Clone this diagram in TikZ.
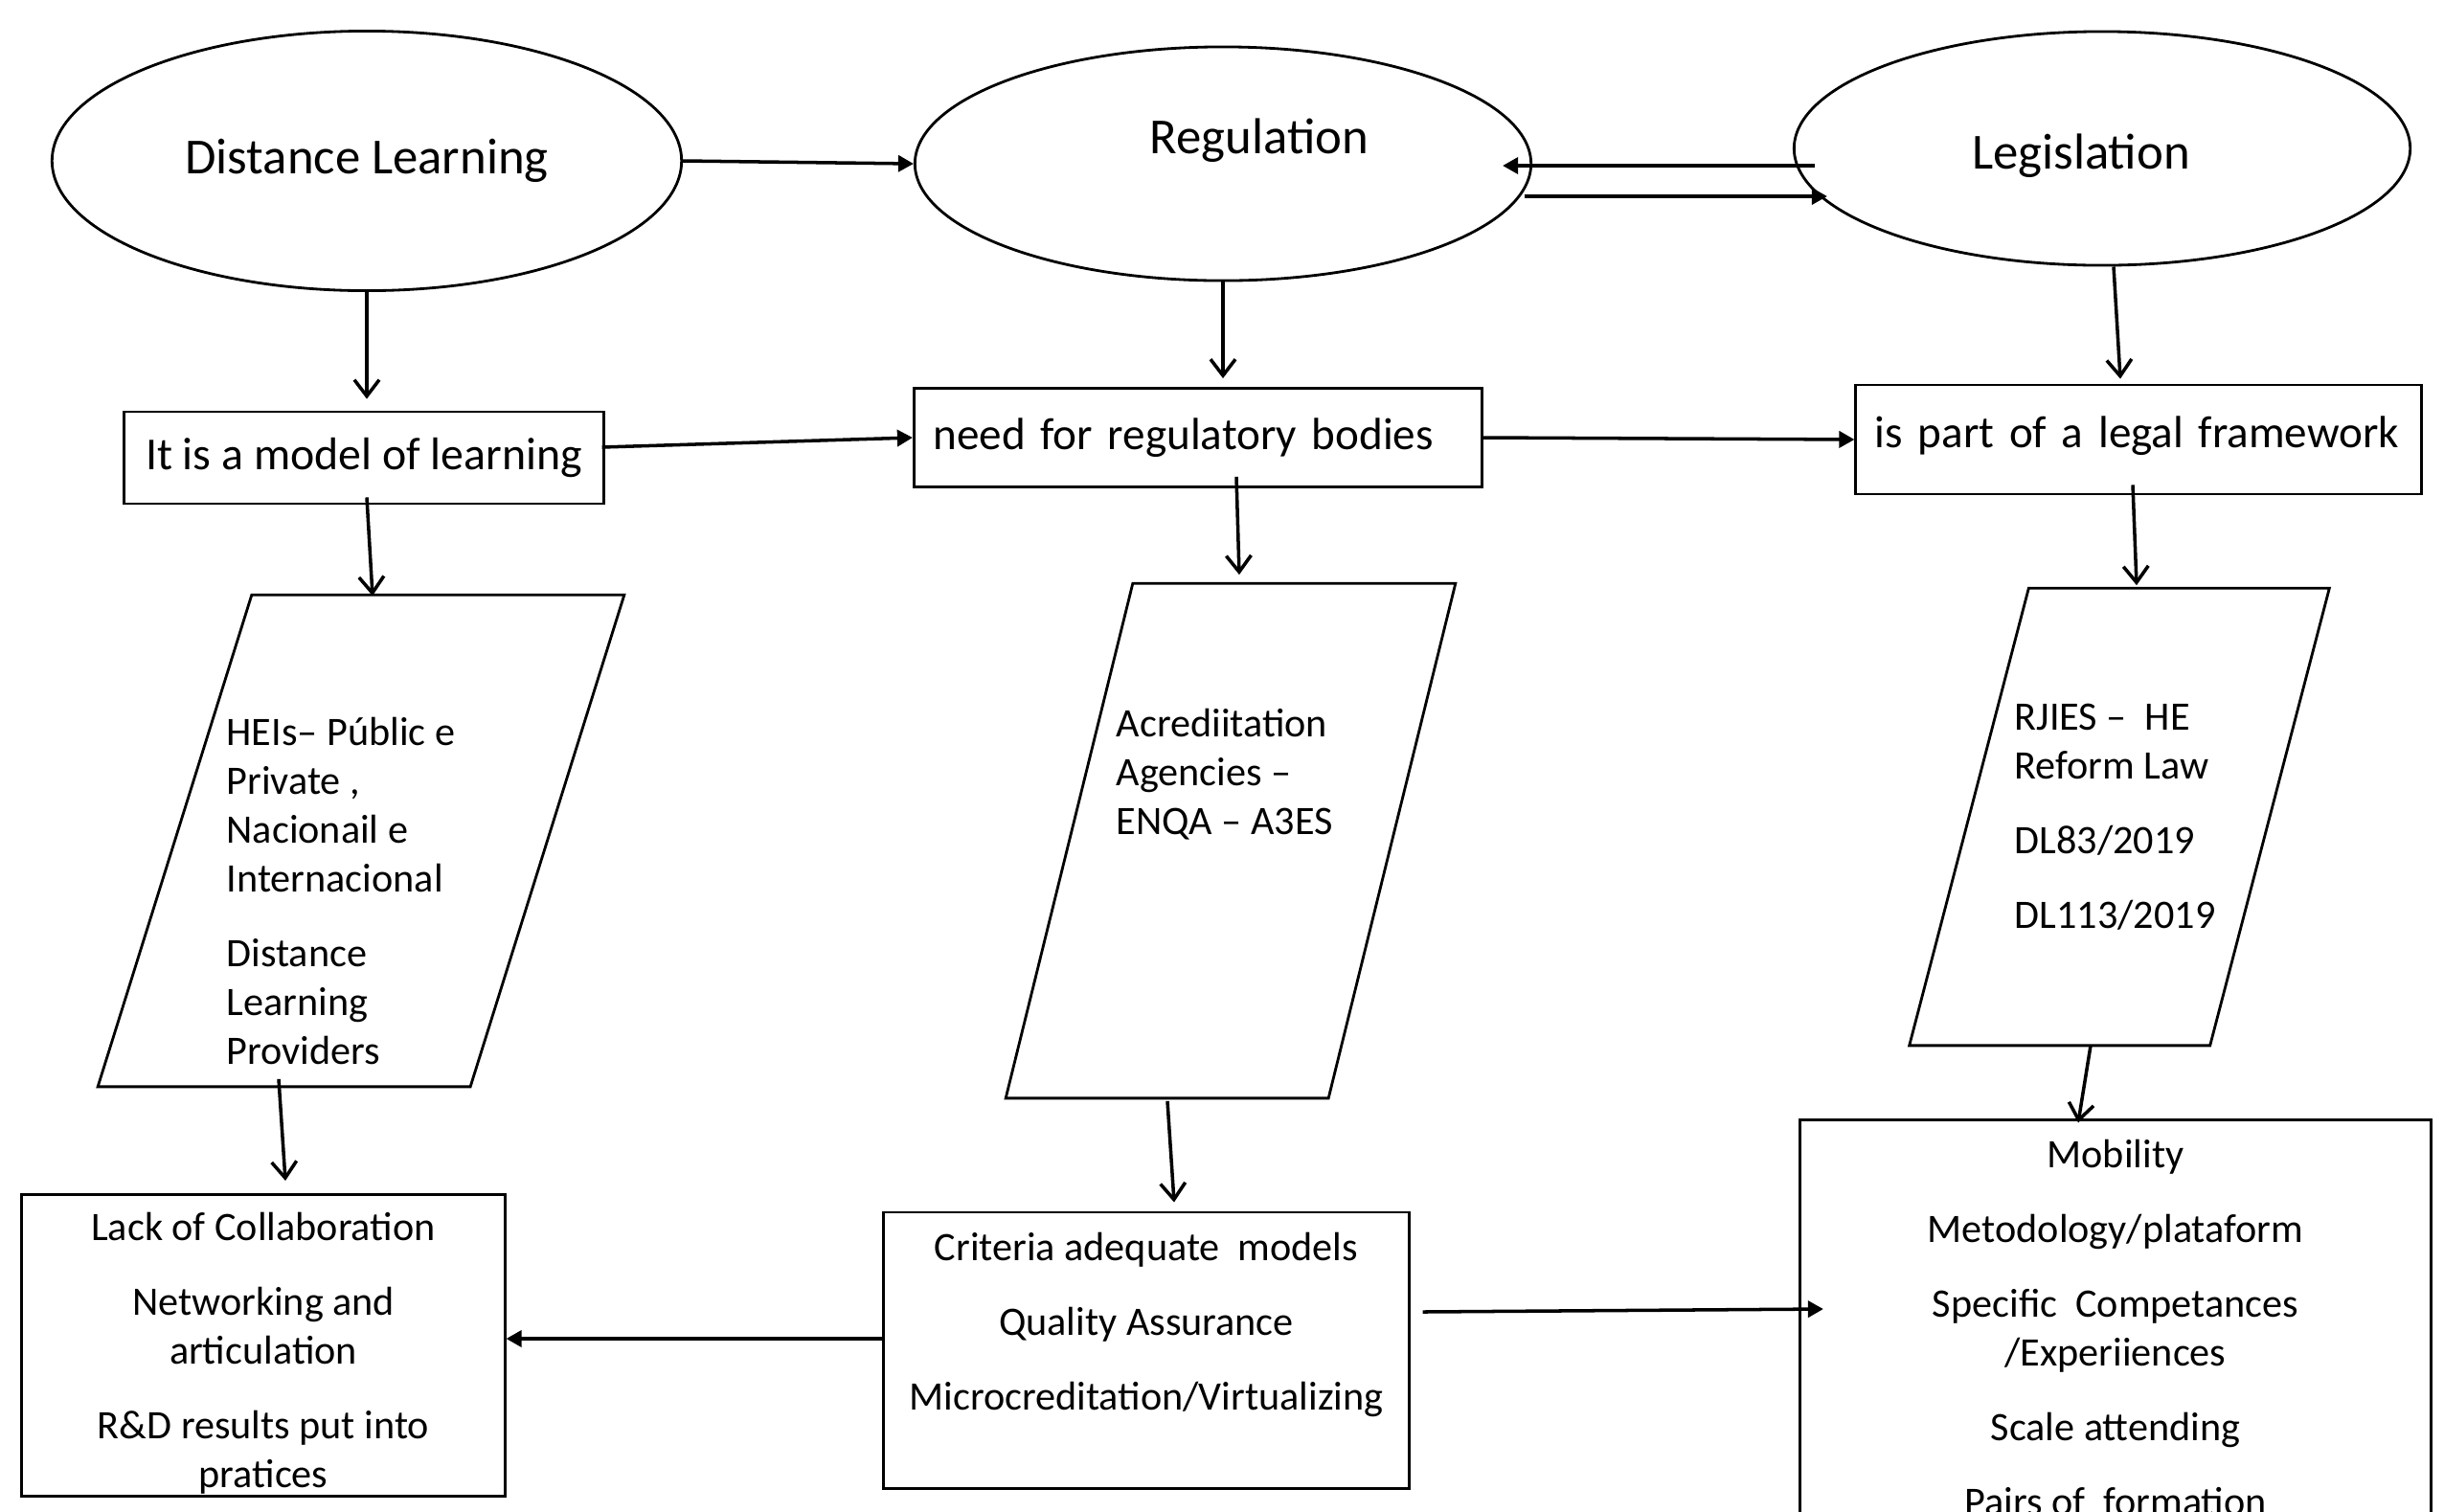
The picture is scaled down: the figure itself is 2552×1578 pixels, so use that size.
\documentclass[tikz,border=0pt]{standalone}
\usepackage{fontspec}
\setmainfont{Carlito}
\usetikzlibrary{arrows.meta, calc, positioning, shapes.geometric}

\tikzset{
  oval/.style={ellipse, draw, line width=0.8pt, inner sep=0pt, font=\fontsize{15}{18}\selectfont},
  box/.style={rectangle, draw, line width=0.8pt, inner sep=0pt},
  slot/.style={rectangle, inner sep=0pt},
  outline/.style={line width=0.8pt, line join=miter},
  txt/.style={inner sep=0pt, font=\fontsize{12}{14.5}\selectfont},
  vline/.style={line width=1pt, -{Straight Barb[length=0.17cm,width=0.26cm]}},
  hline/.style={line width=1pt, -{Triangle[length=0.16cm,width=0.17cm]}}
}

\begin{document}
\begin{tikzpicture}[x=0.01cm, y=-0.01cm]
    \useasboundingbox (0,0) rectangle (2552,1578);
    \clip (0,0) rectangle (2552,1578);

    % Top row
    \node[oval, minimum width=6.57cm, minimum height=2.71cm] (dl) at (383,168) {Distance Learning};
    \node[oval, minimum width=6.43cm, minimum height=2.44cm,
          label={[font=\fontsize{15}{18}\selectfont, xshift=0.38cm, yshift=0.24cm]center:Regulation}] (reg) at (1277,171) {};
    \node[oval, minimum width=6.43cm, minimum height=2.44cm,
          label={[font=\fontsize{15}{18}\selectfont, xshift=-0.22cm, yshift=-0.08cm]center:Legislation}] (leg) at (2195,155) {};

    % Second row
    \node[box, minimum width=5.00cm, minimum height=0.96cm, font=\fontsize{13.6}{16}\selectfont] (model) at (380,478) {It is a model of learning};
    \node[box, minimum width=5.93cm, minimum height=1.03cm, text width=5.53cm, align=left,
          font=\fontsize{13.4}{16}\selectfont] (need) at (1251,457) {\raisebox{0.08cm}{need for regulatory bodies}};
    \node[box, minimum width=5.90cm, minimum height=1.14cm, text width=5.50cm, align=left,
          font=\fontsize{13.4}{16}\selectfont] (legal) at (2233,459) {\raisebox{0.16cm}{is part of a legal framework}};

    % Parallelograms
    \node[slot, minimum width=5.48cm, minimum height=5.12cm] (hei) at (377,878) {};
    \draw[outline] (hei.south west) -- ++(389,0) -- (hei.north east) -- ++(-389,0) -- cycle;
    \node[slot, minimum width=4.68cm, minimum height=5.36cm] (acc) at (1285,878) {};
    \draw[outline] (acc.south west) -- ++(337,0) -- (acc.north east) -- ++(-337,0) -- cycle;
    \node[slot, minimum width=4.37cm, minimum height=4.76cm] (rjies) at (2213,853) {};
    \draw[outline] (rjies.south west) -- ++(314,0) -- (rjies.north east) -- ++(-314,0) -- cycle;

    \node[txt, anchor=north west, align=left] (heitxt) at (236,748)
        {HEIs– Públic e\\Private ,\\Nacionail e\\Internacional\\[7.7pt]Distance\\Learning\\Providers};
    \node[txt, anchor=north west, align=left] (acctxt) at (1165,739)
        {Acrediitation\\Agencies –\\ENQA – A3ES};
    \node[txt, anchor=north west, align=left] (rjiestxt) at (2103,734)
        {RJIES –~ HE\\Reform Law\\[7.7pt]DL83/2019\\[7.7pt]DL113/2019};

    % Bottom row
    \node[box, minimum width=5.04cm, minimum height=3.15cm] (lack) at (275,1405) {};
    \node[box, minimum width=5.48cm, minimum height=2.88cm] (crit) at (1197,1410) {};
    \node[box, minimum width=6.59cm, minimum height=5.60cm] (mob) at (2209,1450) {};

    \node[txt, align=center] (lacktxt) at (275,1413)
        {Lack of Collaboration\\[7.7pt]Networking and\\articulation\\[7.7pt]R\&D results put into\\pratices};
    \node[txt, anchor=north, align=center] (crittxt) at (1197,1286)
        {Criteria adequate~ models\\[7.7pt]Quality Assurance\\[7.7pt]Microcreditation/Virtualizing};
    \node[txt, anchor=north, align=center] (mobtxt) at (2209,1189)
        {Mobility\\[7.7pt]Metodology/plataform\\[7.7pt]Specific~ Competances\\/Experiiences\\[7.7pt]Scale attending\\[7.7pt]Pairs of~ formation};

    % Connectors
    \draw[vline, shorten >=0.12cm] (dl.south) -- (dl.south |- model.north);
    \draw[hline] (dl.east) -- (reg.west);
    \draw[hline] ($(leg.west)+(23,18)$) -- ($(reg.east)+(-31,2)$);
    \draw[hline] ($(reg.east)+(-8,34)$) -- ($(leg.west)+(36,50)$);
    \draw[vline, shorten >=0.09cm] (reg.south) -- (reg.south |- need.north);
    \draw[vline] ($(leg.south)+(12,0)$) -- ($(legal.north)+(-19,-5)$);

    \draw[hline] ($(model.east)+(-3,-11)$) -- (need.west);
    \draw[hline] (need.east) -- (legal.west);
    \draw[vline] ($(model.south)+(3,-8)$) -- ($(hei.north)+(12,1)$);
    \draw[vline] ($(need.south)+(40,-12)$) -- ($(acc.north)+(9,-9)$);
    \draw[vline] ($(legal.south)+(-6,-11)$) -- ($(rjies.north)+(18,-3)$);

    \draw[vline] ($(hei.south)+(-86,-8)$) -- ($(lack.north)+(23,-13)$);
    \draw[vline] ($(acc.south)+(-66,3)$) -- ($(crit.north)+(29,-9)$);
    \draw[vline] ($(rjies.south)+(-30,0)$) -- ($(mob.north)+(-39,4)$);
    \draw[hline] ($(crit.west)+(3,-12)$) -- ($(lack.east)+(0,-7)$);
    \draw[hline] ($(crit.east)+(13,-40)$) -- ($(mob.west)+(26,-83)$);
\end{tikzpicture}
\end{document}
